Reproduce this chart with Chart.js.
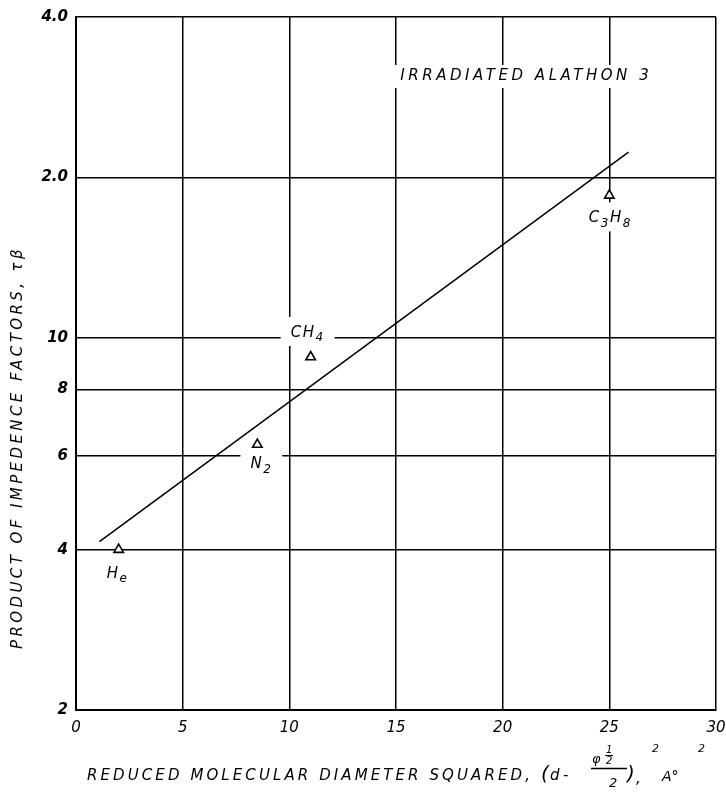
<!DOCTYPE html>
<html>
<head>
<meta charset="utf-8">
<script src="https://cdn.jsdelivr.net/npm/chart.js@4/dist/chart.umd.min.js"></script>
<style>
  html, body { margin: 0; padding: 0; background: #fff; }
  #wrap { width: 726px; height: 794px; }
</style>
</head>
<body>
<div id="wrap"><canvas id="c" width="726" height="794"></canvas></div>
<script>
// Gas labels: a character after "_" is drawn as a subscript
const gasNames = ['H_e', 'N_2', 'CH_4', 'C_3H_8'];
const diameterSquared = [2, 8.5, 11, 25];
const impedanceProduct = [4.0, 6.3, 9.2, 18.5];

// Straight-line fit drawn across the data
const fitX = [1.1, 25.9];
const fitY = [4.14, 22.3];

const xTickValues = [0, 5, 10, 15, 20, 25, 30];
const yTickValues = [2, 4, 6, 8, 10, 20, 40];
const yTickLabels = ['2', '4', '6', '8', '10', '2.0', '4.0'];

const noteText = 'IRRADIATED ALATHON 3';
const yTitle = 'PRODUCT OF IMPEDENCE FACTORS, \u03C4\u03B2';
const xTitle = 'REDUCED MOLECULAR DIAMETER SQUARED,';

// Layout / styling
const FONT = '"DejaVu Sans", "Liberation Sans", sans-serif';
const labelOffsets = [[-1, 24], [4, 20], [-3, -24], [1, 23]];
const notePos = { x: 15.2, y: 31 };

function setFont(ctx, size, weight) {
  ctx.font = 'italic ' + (weight || 'normal') + ' ' + size + 'px ' + FONT;
}

function parseRich(str) {
  const segs = [];
  for (let i = 0; i < str.length; i++) {
    if (str[i] === '_') { segs.push({ t: str[i + 1], sub: true }); i++; }
    else segs.push({ t: str[i], sub: false });
  }
  return segs;
}

function richWidth(ctx, segs) {
  let w = 0;
  segs.forEach(s => { setFont(ctx, s.sub ? 12 : 15); w += ctx.measureText(s.t).width + 1.5; });
  return w;
}

function drawRich(ctx, str, cx, cy) {
  const segs = parseRich(str);
  const w = richWidth(ctx, segs);
  let x = cx - w / 2;
  ctx.textAlign = 'left';
  ctx.textBaseline = 'middle';
  segs.forEach(s => {
    setFont(ctx, s.sub ? 12 : 15);
    ctx.fillText(s.t, x, cy + (s.sub ? 5 : 0));
    x += ctx.measureText(s.t).width + 1.5;
  });
  return w;
}

function fitSpacing(ctx, text, target) {
  ctx.letterSpacing = '0px';
  const w0 = ctx.measureText(text).width;
  const ls = (target - w0) / text.length;
  ctx.letterSpacing = ls + 'px';
}

const overlay = {
  id: 'overlay',
  beforeDatasetsDraw(chart) {
    // white boxes that break the grid behind the lettering
    const { ctx, scales: { x, y } } = chart;
    ctx.save();
    ctx.fillStyle = '#fff';
    gasNames.forEach((n, i) => {
      const cx = x.getPixelForValue(diameterSquared[i]) + labelOffsets[i][0];
      const cy = y.getPixelForValue(impedanceProduct[i]) + labelOffsets[i][1];
      const w = richWidth(ctx, parseRich(n));
      ctx.fillRect(cx - w / 2 - 10, cy - 16, w + 20, 29);
    });
    const nx = x.getPixelForValue(notePos.x);
    const ny = y.getPixelForValue(notePos.y);
    ctx.fillRect(nx - 8, ny - 11, 266, 23);
    ctx.restore();
  },
  afterDatasetsDraw(chart) {
    const { ctx, scales: { x, y } } = chart;
    ctx.save();
    ctx.fillStyle = '#000';
    ctx.strokeStyle = '#000';

    gasNames.forEach((n, i) => {
      const cx = x.getPixelForValue(diameterSquared[i]) + labelOffsets[i][0];
      const cy = y.getPixelForValue(impedanceProduct[i]) + labelOffsets[i][1];
      drawRich(ctx, n, cx, cy);
    });

    // note in the upper right
    setFont(ctx, 15);
    ctx.textAlign = 'left';
    ctx.textBaseline = 'middle';
    fitSpacing(ctx, noteText, 252);
    ctx.fillText(noteText, x.getPixelForValue(notePos.x), y.getPixelForValue(notePos.y));

    // y-axis title
    ctx.save();
    ctx.translate(18, 448);
    ctx.rotate(-Math.PI / 2);
    setFont(ctx, 15);
    fitSpacing(ctx, yTitle, 403);
    ctx.fillText(yTitle, -201, 0);
    ctx.restore();

    // x-axis title with the formula
    setFont(ctx, 15);
    fitSpacing(ctx, xTitle, 446);
    ctx.fillText(xTitle, 87, 776);
    ctx.letterSpacing = '0px';
    setFont(ctx, 20);
    ctx.fillText('(', 541, 775);
    setFont(ctx, 15);
    ctx.fillText('d', 550, 776);
    ctx.fillText('-', 563, 776);
    setFont(ctx, 13);
    ctx.fillText('\u03C6', 592, 760);
    setFont(ctx, 10);
    ctx.fillText('1', 606, 750);
    ctx.fillText('2', 606, 761);
    ctx.lineWidth = 1;
    ctx.beginPath(); ctx.moveTo(605, 755.5); ctx.lineTo(613, 755.5); ctx.stroke();
    ctx.lineWidth = 1.3;
    ctx.beginPath(); ctx.moveTo(591, 768.5); ctx.lineTo(627, 768.5); ctx.stroke();
    setFont(ctx, 13);
    ctx.fillText('2', 609, 784);
    setFont(ctx, 20);
    ctx.fillText(')', 627, 775);
    setFont(ctx, 15);
    ctx.fillText(',', 636, 779);
    setFont(ctx, 11);
    ctx.fillText('2', 652, 749);
    setFont(ctx, 14);
    ctx.fillText('A\u00B0', 662, 777);
    setFont(ctx, 11);
    ctx.fillText('2', 698, 749);

    ctx.restore();
  }
};

new Chart(document.getElementById('c'), {
  type: 'scatter',
  data: {
    datasets: [
      {
        label: 'gases',
        data: diameterSquared.map((v, i) => ({ x: v, y: impedanceProduct[i] })),
        pointStyle: 'triangle',
        pointRadius: 5.5,
        pointBorderWidth: 1.6,
        pointBorderColor: '#000',
        pointBackgroundColor: '#fff',
        showLine: false
      },
      {
        label: 'fit',
        data: fitX.map((v, i) => ({ x: v, y: fitY[i] })),
        showLine: true,
        borderColor: '#000',
        borderWidth: 1.5,
        pointRadius: 0,
        fill: false
      }
    ]
  },
  options: {
    responsive: false,
    animation: false,
    devicePixelRatio: 1,
    layout: { padding: { top: 17, right: 10, left: 0, bottom: 0 } },
    plugins: { legend: { display: false }, tooltip: { enabled: false } },
    scales: {
      x: {
        type: 'linear',
        min: 0,
        max: 30,
        afterBuildTicks: s => { s.ticks = xTickValues.map(v => ({ value: v })); },
        afterFit: s => { s.height = 84; s.paddingRight = 10; s.paddingLeft = 0; },
        ticks: {
          autoSkip: false,
          color: '#000',
          padding: 9,
          maxRotation: 0,
          font: { family: FONT, size: 15, style: 'italic' }
        },
        grid: { color: '#000', lineWidth: 1.5, drawTicks: false },
        border: { color: '#000', width: 2 }
      },
      y: {
        type: 'logarithmic',
        min: 2,
        max: 40,
        afterBuildTicks: s => { s.ticks = yTickValues.map(v => ({ value: v })); },
        afterFit: s => { s.width = 76; },
        ticks: {
          autoSkip: false,
          color: '#000',
          padding: 8,
          callback: (v, i) => yTickLabels[i],
          font: { family: FONT, size: 15, style: 'italic', weight: 'bold' }
        },
        grid: { color: '#000', lineWidth: 1.5, drawTicks: false },
        border: { color: '#000', width: 2 }
      }
    }
  },
  plugins: [overlay]
});
</script>
</body>
</html>
